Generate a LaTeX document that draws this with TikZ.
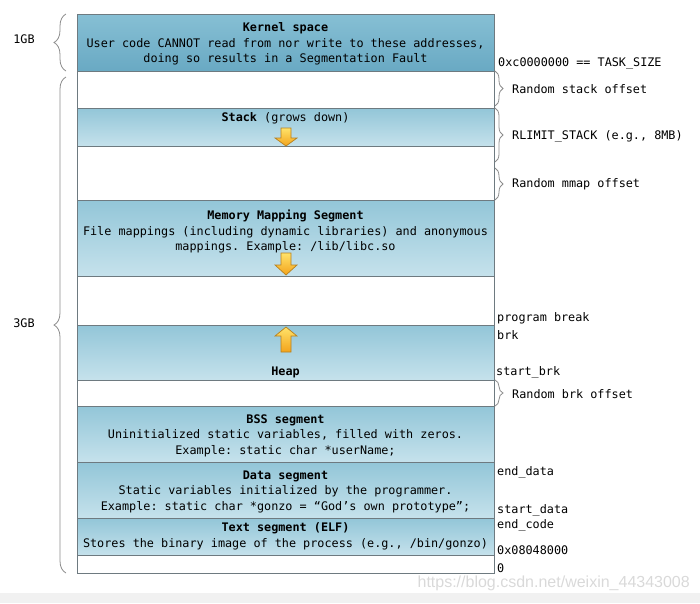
\documentclass[tikz,border=0pt]{standalone}
\usepackage{fontspec}
\setmonofont{DejaVu Sans Mono}
\newfontfamily\wmfont{Liberation Sans}
\usetikzlibrary{decorations.pathreplacing}
\definecolor{segtop}{HTML}{93C6D8}
\definecolor{segbot}{HTML}{C6E2EC}
\definecolor{kertop}{HTML}{86BFD4}
\definecolor{kerbot}{HTML}{69A9C3}
\definecolor{edgecol}{HTML}{6E7A80}
\definecolor{bracecol}{HTML}{8C8C8C}
\definecolor{arrtop}{HTML}{FFE36A}
\definecolor{arrbot}{HTML}{F3A31B}
\definecolor{arredge}{HTML}{B7801E}
\definecolor{bandcol}{HTML}{F1F1F1}
\definecolor{wmcol}{HTML}{D9D9D9}
\begin{document}
\begin{tikzpicture}[x=1pt,y=-1pt,
  every node/.style={font=\ttfamily\fontsize{11.8}{15.5}\selectfont, inner sep=0pt},
  seg/.style={draw=edgecol, line width=1.2pt, anchor=north west, minimum width=417pt, top color=segtop, bottom color=segbot},
  kseg/.style={seg, top color=kertop, bottom color=kerbot},
  gap/.style={draw=edgecol, line width=1.2pt, anchor=north west, minimum width=417pt, fill=white},
  segtext/.style={align=center, text=black},
  lab/.style={anchor=west, text=black},
  lbrace/.style={draw=bracecol, line width=0.8pt, decorate, decoration={brace, amplitude=12pt}},
  rbrace/.style={draw=bracecol, line width=0.8pt, decorate, decoration={brace, amplitude=8pt}},
  growarrow/.style={draw=arredge, line width=0.7pt, top color=arrtop, bottom color=arrbot}
]
\useasboundingbox (0,0) rectangle (700,603);
\fill[bandcol] (0,593) rectangle (700,603);

% segments
\node[kseg, minimum height=57pt] (kernel) at (77,14) {};
\node[gap, minimum height=37pt] (gap1) at (77,71) {};
\node[seg, minimum height=38pt] (stack) at (77,108) {};
\node[gap, minimum height=54pt] (gap2) at (77,146) {};
\node[seg, minimum height=76pt] (mms) at (77,200) {};
\node[gap, minimum height=49pt] (gap3) at (77,276) {};
\node[seg, minimum height=55pt] (heap) at (77,325) {};
\node[gap, minimum height=26pt] (gap4) at (77,380) {};
\node[seg, minimum height=56pt] (bss) at (77,406) {};
\node[seg, minimum height=56pt] (data) at (77,462) {};
\node[seg, minimum height=37pt] (text) at (77,518) {};
\node[gap, minimum height=18pt] (gap5) at (77,555) {};

% segment texts
\node[segtext] (kt) at (285.5,44) {\textbf{Kernel space}\\User code CANNOT read from nor write to these addresses,\\doing so results in a Segmentation Fault};
\node[segtext] (st) at (285.5,118.5) {\textbf{Stack} (grows down)};
\node[segtext] (mt) at (285.5,231.5) {\textbf{Memory Mapping Segment}\\File mappings (including dynamic libraries) and anonymous\\mappings. Example: /lib/libc.so};
\node[segtext] (ht) at (285.5,372.5) {\textbf{Heap}};
\node[segtext] (bt) at (285.5,435.5) {\textbf{BSS segment}\\Uninitialized static variables, filled with zeros.\\Example: static char *userName;};
\node[segtext] (dt) at (285.5,491.5) {\textbf{Data segment}\\Static variables initialized by the programmer.\\Example: static char *gonzo = “God’s own prototype”;};
\node[segtext] (tt) at (285.5,536.5) {\textbf{Text segment (ELF)}\\Stores the binary image of the process (e.g., /bin/gonzo)};

% growth arrows
\shadedraw[growarrow] (281,128) -- (291,128) -- (291,138) -- (297,138) -- (286,146) -- (275,138) -- (281,138) -- cycle;
\shadedraw[growarrow] (281,253) -- (291,253) -- (291,265) -- (297,265) -- (286,275) -- (275,265) -- (281,265) -- cycle;
\shadedraw[growarrow] (281,352) -- (291,352) -- (291,336) -- (297,336) -- (286,327) -- (275,336) -- (281,336) -- cycle;

% left braces
\draw[lbrace] (66,71) -- (66,14);
\draw[lbrace] (66,573) -- (66,77);
\node (l1) at (24,39) {1GB};
\node (l3) at (24,323) {3GB};

% right braces
\draw[rbrace] (495,71) -- (495,106);
\draw[rbrace] (495,108) -- (495,162);
\draw[rbrace] (495,168) -- (495,200);
\draw[rbrace] (495,380) -- (495,406);
\node[lab] (rso) at (512,89) {Random stack offset};
\node[lab] (rls) at (512,136) {RLIMIT\_STACK (e.g., 8MB)};
\node[lab] (rmo) at (512,184) {Random mmap offset};
\node[lab] (rbo) at (512,394) {Random brk offset};

% address labels
\node[lab] (ts) at (498,64) {0xc0000000 == TASK\_SIZE};
\node[lab] (pb) at (497,318) {program break};
\node[lab] (brk) at (497,335) {brk};
\node[lab] (sb) at (496,372) {start\_brk};
\node[lab] (ed) at (497,472) {end\_data};
\node[lab] (sd) at (497,510) {start\_data};
\node[lab] (ec) at (497,525) {end\_code};
\node[lab] (tb) at (497,550) {0x08048000};
\node[lab] (zero) at (497,568) {0};

% watermark
\node[font=\wmfont\fontsize{16}{18}\selectfont, text=wmcol, anchor=east] (wm) at (690,583) {https://blog.csdn.net/weixin\_44343008};
\end{tikzpicture}
\end{document}
